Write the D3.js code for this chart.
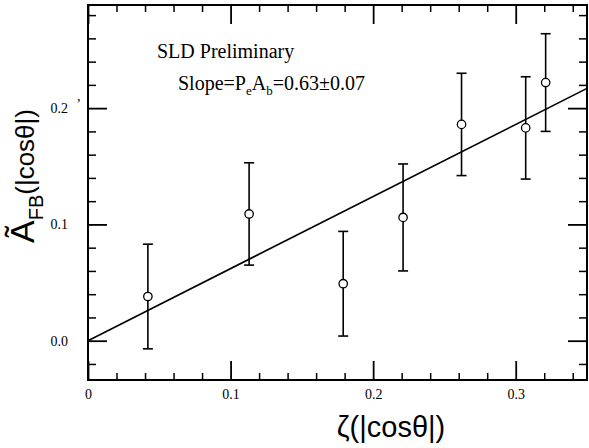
<!DOCTYPE html>
<html><head><meta charset="utf-8">
<script src="https://cdn.jsdelivr.net/npm/d3@7"></script>
<style>
body{margin:0;background:#fff;}
svg{display:block;}
.domain{display:none;}
</style></head>
<body>
<svg id="c" width="589" height="448"></svg>
<script>
// Data
const zeta = [0.042, 0.113, 0.179, 0.221, 0.262, 0.307, 0.321];
const afb  = [0.038, 0.109, 0.049, 0.106, 0.186, 0.183, 0.222];
const err  = [0.045, 0.044, 0.045, 0.046, 0.044, 0.044, 0.042];
const fitSlope = 0.62;
const xMajor = [0, 0.1, 0.2, 0.3];
const xMajorLabels = ["0", "0.1", "0.2", "0.3"];
const xMinor = [0.02,0.04,0.06,0.08,0.12,0.14,0.16,0.18,0.22,0.24,0.26,0.28,0.32,0.34];
const yMajor = [0, 0.1, 0.2];
const yMajorLabels = ["0.0", "0.1", "0.2"];
const yMinor = [-0.02,0.02,0.04,0.06,0.08,0.12,0.14,0.16,0.18,0.22,0.24,0.26,0.28];

const L=88, T=5, R=587, B=380;
const serif = '"Liberation Serif","Times New Roman",serif';
const sans = '"Liberation Sans",Arial,sans-serif';
const svg = d3.select("#c");
const x = d3.scaleLinear().domain([0,0.35]).range([L,R]);
const y = d3.scaleLinear().domain([-0.0338,0.2887]).range([B,T]);

function styleAxis(g, w){
  g.select(".domain").remove();
  g.selectAll("line").attr("stroke","#000").attr("stroke-width",w);
  g.selectAll("text").attr("font-family",serif).attr("font-size",14).attr("fill","#000");
}

// Frame
svg.append("rect").attr("x",L).attr("y",T).attr("width",R-L).attr("height",B-T)
  .attr("fill","none").attr("stroke","#000").attr("stroke-width",2);

// bottom
svg.append("g").attr("transform",`translate(0,${B})`)
  .call(d3.axisBottom(x).tickValues(xMajor).tickSize(-19).tickPadding(9)
    .tickFormat((d,i)=>xMajorLabels[i])).call(g=>styleAxis(g,1.8));
svg.append("g").attr("transform",`translate(0,${B})`)
  .call(d3.axisBottom(x).tickValues(xMinor).tickSize(-7).tickFormat("")).call(g=>styleAxis(g,1.5));
// top
svg.append("g").attr("transform",`translate(0,${T})`)
  .call(d3.axisTop(x).tickValues(xMajor).tickSize(-19).tickFormat("")).call(g=>styleAxis(g,1.8));
svg.append("g").attr("transform",`translate(0,${T})`)
  .call(d3.axisTop(x).tickValues(xMinor).tickSize(-7).tickFormat("")).call(g=>styleAxis(g,1.5));
// left
svg.append("g").attr("transform",`translate(${L},0)`)
  .call(d3.axisLeft(y).tickValues(yMajor).tickSize(-19).tickPadding(20)
    .tickFormat((d,i)=>yMajorLabels[i])).call(g=>styleAxis(g,1.8));
svg.append("g").attr("transform",`translate(${L},0)`)
  .call(d3.axisLeft(y).tickValues(yMinor).tickSize(-8).tickFormat("")).call(g=>styleAxis(g,1.5));
// right
svg.append("g").attr("transform",`translate(${R},0)`)
  .call(d3.axisRight(y).tickValues(yMajor).tickSize(-19).tickFormat("")).call(g=>styleAxis(g,1.8));
svg.append("g").attr("transform",`translate(${R},0)`)
  .call(d3.axisRight(y).tickValues(yMinor).tickSize(-8).tickFormat("")).call(g=>styleAxis(g,1.5));

// fit line
svg.append("line").attr("x1",x(0)).attr("y1",y(0)).attr("x2",x(0.35)).attr("y2",y(fitSlope*0.35))
  .attr("stroke","#000").attr("stroke-width",1.6);

// error bars and points
const pts = zeta.map((z,i)=>({z, a:afb[i], e:err[i]}));
const g = svg.append("g").attr("stroke","#000").attr("stroke-width",1.6).attr("fill","none");
g.selectAll(".eb").data(pts).join("line").attr("x1",d=>x(d.z)).attr("x2",d=>x(d.z))
  .attr("y1",d=>y(d.a-d.e)).attr("y2",d=>y(d.a+d.e));
g.selectAll(".ct").data(pts).join("line").attr("x1",d=>x(d.z)-5).attr("x2",d=>x(d.z)+5)
  .attr("y1",d=>y(d.a+d.e)).attr("y2",d=>y(d.a+d.e));
g.selectAll(".cb").data(pts).join("line").attr("x1",d=>x(d.z)-5).attr("x2",d=>x(d.z)+5)
  .attr("y1",d=>y(d.a-d.e)).attr("y2",d=>y(d.a-d.e));
g.selectAll("circle").data(pts).join("circle").attr("cx",d=>x(d.z)).attr("cy",d=>y(d.a))
  .attr("r",4.2).attr("fill","#fff").attr("stroke-width",1.3);

// annotations
svg.append("text").attr("x",157).attr("y",58).attr("font-family",serif).attr("font-size",20)
  .text("SLD Preliminary");
const s = svg.append("text").attr("x",178).attr("y",90).attr("font-family",serif).attr("font-size",20);
s.append("tspan").text("Slope=P");
s.append("tspan").attr("font-size",13).attr("dy",5).text("e");
s.append("tspan").attr("dy",-5).text("A");
s.append("tspan").attr("font-size",13).attr("dy",5).text("b");
s.append("tspan").attr("dy",-5).text("=0.63±0.07");
svg.append("text").attr("x",77).attr("y",101).attr("font-family",serif).attr("font-size",14).text(",");

// axis titles
svg.append("text").attr("x",391).attr("y",437).attr("text-anchor","middle")
  .attr("font-family",sans).attr("font-size",29).text("ζ(|cosθ|)");
const yl = svg.append("text").attr("transform","translate(34,243) rotate(-90)")
  .attr("font-family",sans).attr("font-size",34);
yl.append("tspan").text("Ã");
yl.append("tspan").attr("font-size",20).attr("dy",9).text("FB");
yl.append("tspan").attr("font-size",26).attr("dy",-9).text("(|cosθ|)");
</script>
</body></html>
